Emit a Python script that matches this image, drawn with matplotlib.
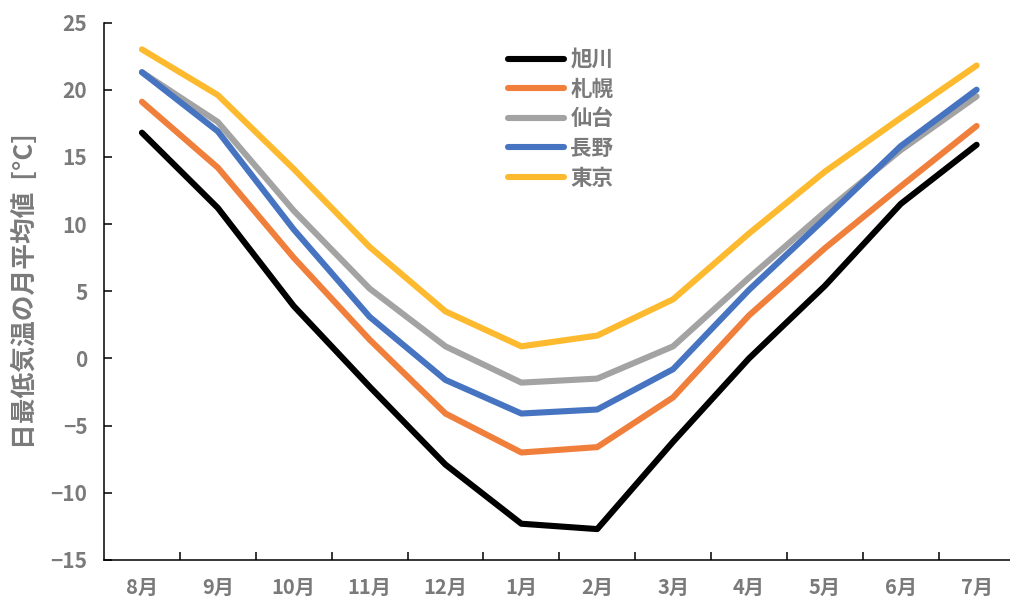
import matplotlib
matplotlib.use("Agg")
import matplotlib.pyplot as plt
from matplotlib.ticker import FixedLocator

plt.rcParams['font.family'] = ['Noto Sans CJK JP', 'DejaVu Sans']

months = ["8月", "9月", "10月", "11月", "12月", "1月", "2月", "3月", "4月", "5月", "6月", "7月"]
asahikawa = [16.8, 11.2, 3.9, -2.1, -7.9, -12.3, -12.7, -6.2, 0.0, 5.4, 11.5, 15.9]
sapporo = [19.1, 14.2, 7.5, 1.4, -4.1, -7.0, -6.6, -2.9, 3.2, 8.2, 12.8, 17.3]
sendai = [21.3, 17.6, 11.0, 5.2, 0.9, -1.8, -1.5, 0.9, 6.0, 10.9, 15.5, 19.5]
nagano = [21.3, 16.9, 9.6, 3.1, -1.6, -4.1, -3.8, -0.8, 5.1, 10.4, 15.8, 20.0]
tokyo = [23.0, 19.6, 14.1, 8.3, 3.5, 0.9, 1.7, 4.4, 9.3, 13.9, 17.9, 21.8]
series_names = ["旭川", "札幌", "仙台", "長野", "東京"]
series_values = [asahikawa, sapporo, sendai, nagano, tokyo]
colors = ["#000000", "#F07F3C", "#A3A3A3", "#4674C1", "#FDBA2E"]
yticks = [-15, -10, -5, 0, 5, 10, 15, 20, 25]

W, H = 1010, 602
fig = plt.figure(figsize=(W / 100, H / 100), dpi=100)
ax = fig.add_axes([104 / W, 1 - 560 / H, (W - 104) / W, (560 - 22.5) / H])

x = list(range(len(months)))
for name, vals, c in zip(series_names, series_values, colors):
    ax.plot(x, vals, color=c, lw=4.4, label=name, solid_capstyle='round', solid_joinstyle='round')

ax.set_ylim(-15, 25)
ax.set_xlim(-0.5, 11.44)
ax.set_yticks(yticks)
ax.set_xticks(x)
ax.set_xticklabels(months)
ax.xaxis.set_minor_locator(FixedLocator([i + 0.5 for i in range(11)]))

gray = "#7A7A7A"
ax.tick_params(axis='y', direction='in', length=6, width=1.1, labelsize=15,
               labelcolor=gray, pad=12)
ax.tick_params(axis='x', which='major', length=0, labelsize=14.5, labelcolor=gray, pad=12)
ax.tick_params(axis='x', which='minor', direction='in', length=6, width=1.1)
for lab in ax.get_xticklabels() + ax.get_yticklabels():
    lab.set_fontweight('bold')

for s in ['top', 'right']:
    ax.spines[s].set_visible(False)
for s in ['left', 'bottom']:
    ax.spines[s].set_linewidth(1.1)

ax.set_ylabel("日最低気温の月平均値  [°C]", fontsize=18.5, fontweight='bold', color=gray)
ax.yaxis.set_label_coords(-65 / (W - 104), 0.5)

leg = ax.legend(loc='upper left', bbox_to_anchor=(508 / W, 1 - 49 / H),
                bbox_transform=fig.transFigure, frameon=False, fontsize=15.5,
                handlelength=2.6, handletextpad=0.3, labelspacing=0.4,
                borderpad=0, borderaxespad=0)
for t in leg.get_texts():
    t.set_color(gray)
    t.set_fontweight('bold')

fig.savefig("out.png", dpi=100)
